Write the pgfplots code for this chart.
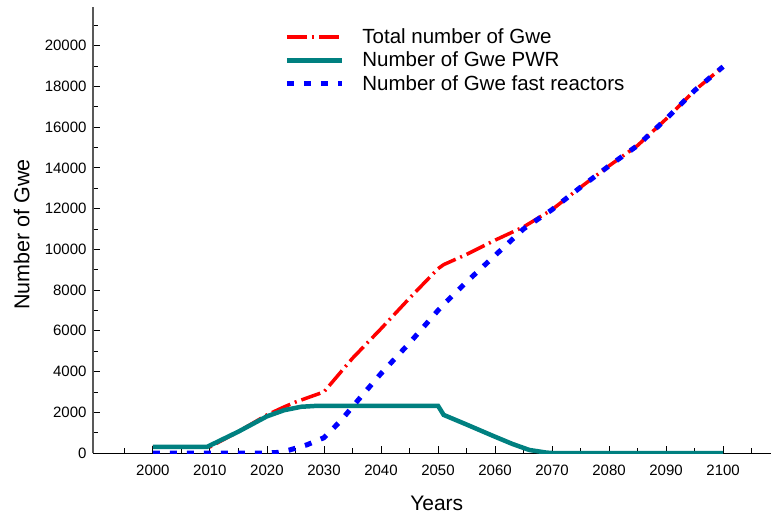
\documentclass[border=0pt]{standalone}
\usepackage{pgfplots}
\pgfplotsset{compat=1.18}
\usepackage{fontspec}
\setmainfont{Liberation Sans}
\definecolor{tealc}{RGB}{0,128,128}
\begin{document}
\begin{tikzpicture}
\begin{axis}[
  scale only axis,
  width=678pt, height=446pt,
  xmin=1989.5, xmax=2108.4,
  ymin=0, ymax=21900,
  axis x line*=bottom, axis y line*=left,
  x axis line style={-, black, line width=1pt},
  y axis line style={-, black!65, line width=1.8pt},
  tick align=inside,
  xtick={2000,2010,...,2100},
  minor xtick={1995,2005,...,2105},
  ytick={0,2000,...,20000},
  minor ytick={1000,3000,...,21000},
  scaled y ticks=false,
  major tick length=7pt, minor tick length=5pt,
  tick style={black, line width=0.8pt},
  /pgf/number format/1000 sep={},
  /pgf/number format/assume math mode=true,
  ticklabel style={font=\fontsize{15}{17}\selectfont},
  xticklabel style={yshift=-8pt},
  yticklabel style={xshift=-3pt},
  xlabel={Years}, ylabel={Number of Gwe},
  every axis x label/.style={at={(axis description cs:0.507,-0.112)}, anchor=center, font=\fontsize{21}{24}\selectfont},
  every axis y label/.style={at={(axis description cs:-0.105,0.49)}, anchor=center, rotate=90, font=\fontsize{21.5}{24}\selectfont},
  legend style={at={(axis description cs:0.282,0.955)}, anchor=north west, draw=none, fill=none,
    font=\fontsize{20.5}{23}\selectfont, row sep=4pt, inner sep=0pt,
    nodes={inner sep=1.5pt}},
  legend cell align=left,
  legend image code/.code={\draw[#1] (0pt,0pt) -- (55pt,0pt); \path[draw=none,fill=none] (0pt,0pt) -- (74pt,0pt);},
]
\addplot[red, line width=3.5pt, dash pattern=on 20pt off 5pt on 2pt off 5pt] coordinates {
(2000,300) (2010,300) (2015,1050) (2020,1870) (2023,2260) (2025,2500) (2030,3000) (2035,4650)
(2040,6100) (2045,7600) (2050,9050) (2051,9250) (2055,9750) (2060,10450) (2065,11100)
(2070,11950) (2075,13050) (2080,14100) (2085,15100) (2090,16400) (2095,17800) (2100,18970)};
\addlegendentry{Total number of Gwe}
\addplot[tealc, line width=4.5pt] coordinates {
(2000,300) (2009.5,300) (2015,1050) (2020,1800) (2023,2100) (2026,2270) (2029,2320)
(2050,2320) (2051,1870) (2055,1400) (2060,800) (2063,450) (2066,150) (2069,20) (2070,0) (2100,0)};
\addlegendentry{Number of Gwe PWR}
\addplot[blue, line width=5pt, dash pattern=on 7pt off 10pt] coordinates {
(2000,0) (2020,0) (2022,30) (2024,150) (2027,400) (2030,750) (2033,1600) (2036,2600)
(2040,3900) (2045,5400) (2050,7000) (2051,7300) (2055,8400) (2060,9700) (2065,11000)
(2070,11950) (2075,13050) (2080,14100) (2085,15100) (2090,16400) (2095,17800) (2100,18970)};
\addlegendentry{Number of Gwe fast reactors}
\end{axis}
\pgfresetboundingbox
\path ([shift={(-93pt,-62pt)}]current axis.south west) rectangle ([shift={(0pt,7pt)}]current axis.north east);
\end{tikzpicture}
\end{document}
